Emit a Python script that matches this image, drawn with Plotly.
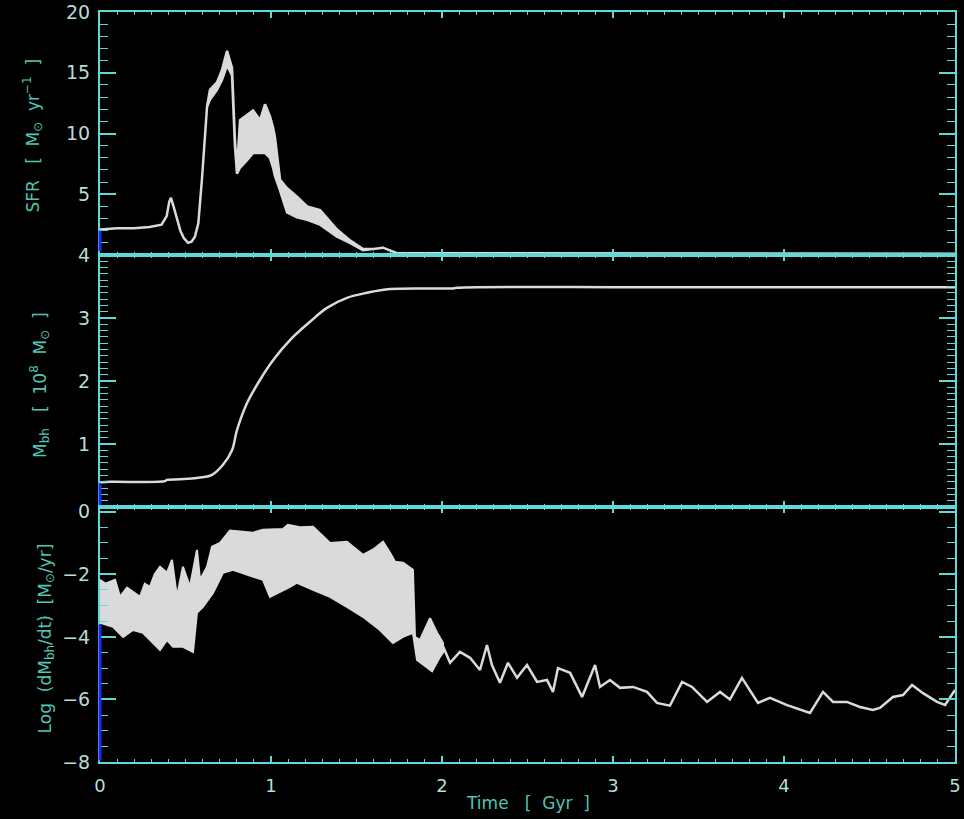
import plotly.graph_objects as go

# ---------------- data ----------------
# Panel 1: star formation rate, upper / lower envelope of the noisy trace
sfr_time = [0, 0.1, 0.2, 0.29, 0.36, 0.39, 0.405, 0.415, 0.43, 0.45, 0.47, 0.49, 0.515,
            0.535, 0.555, 0.575, 0.596, 0.626, 0.643, 0.684, 0.713, 0.743, 0.772, 0.789,
            0.801, 0.819, 0.86, 0.895, 0.936, 0.965, 0.994, 1.012, 1.023, 1.053, 1.094,
            1.152, 1.211, 1.287, 1.386, 1.462, 1.538, 1.6, 1.655, 1.737, 2.0, 3.0, 4.0, 5.0]
sfr_upper = [2.1, 2.2, 2.2, 2.3, 2.5, 3.2, 4.4, 4.7, 4.0, 2.9, 2.0, 1.4, 1.0,
             1.1, 1.5, 2.6, 6.2, 12.2, 13.6, 14.2, 15.2, 16.8, 15.4, 9.5,
             7.0, 11.1, 11.5, 11.9, 11.1, 12.4, 11.4, 10.5, 9.7, 6.2, 5.5,
             4.8, 4.0, 3.7, 2.1, 1.2, 0.5, 0.5, 0.6, 0.15, 0.1, 0.1, 0.1, 0.1]
sfr_lower = [2.1, 2.2, 2.2, 2.3, 2.5, 3.2, 4.4, 4.7, 4.0, 2.9, 2.0, 1.4, 1.0,
             1.1, 1.5, 2.6, 6.2, 12.2, 12.8, 13.6, 14.4, 15.6, 14.8, 9.0,
             6.7, 7.2, 7.8, 8.4, 8.4, 8.4, 8.0, 7.2, 6.5, 5.3, 3.5,
             3.1, 2.9, 2.5, 1.5, 1.0, 0.4, 0.5, 0.6, 0.15, 0.1, 0.1, 0.1, 0.1]

# Panel 2: black hole mass [1e8 Msun]
mbh_time = [0, 0.06, 0.38, 0.39, 0.468, 0.567, 0.655, 0.719, 0.772, 0.801, 0.86, 0.936,
            1.012, 1.111, 1.228, 1.327, 1.444, 1.561, 1.696, 2.064, 2.088, 2.222, 3.0,
            4.0, 5.0]
mbh_mass = [0.39, 0.40, 0.41, 0.43, 0.44, 0.46, 0.51, 0.67, 0.90, 1.22, 1.65, 2.02,
            2.33, 2.65, 2.94, 3.16, 3.32, 3.40, 3.46, 3.47, 3.48, 3.49, 3.49,
            3.49, 3.49]

# Panel 3: log accretion rate, noisy band (upper / lower envelopes) then a single trace
acc_up_time = [0, 0.03, 0.088, 0.117, 0.158, 0.2, 0.234, 0.262, 0.292, 0.32, 0.351,
               0.392, 0.421, 0.45, 0.485, 0.526, 0.567, 0.585, 0.626, 0.655, 0.702,
               0.76, 0.895, 0.953, 1.07, 1.099, 1.17, 1.246, 1.345, 1.444, 1.538,
               1.6, 1.655, 1.696, 1.725, 1.772, 1.83, 1.842, 1.871, 1.93, 1.971, 2.006]
acc_up = [-2.18, -2.3, -2.18, -2.72, -2.43, -2.6, -2.72, -2.3, -2.4, -2.0, -1.76,
          -1.95, -1.54, -2.72, -1.76, -2.4, -1.22, -2.18, -1.76, -1.12, -1.0,
          -0.6, -0.67, -0.58, -0.55, -0.42, -0.5, -0.48, -1.0, -0.96, -1.38,
          -1.2, -0.96, -1.31, -1.6, -1.63, -1.86, -4.0, -4.1, -3.4, -3.87, -4.2]
acc_lo_time = [0, 0.076, 0.135, 0.193, 0.251, 0.31, 0.351, 0.392, 0.427, 0.485, 0.544,
               0.567, 0.602, 0.661, 0.719, 0.778, 0.86, 0.953, 0.994, 1.111, 1.152,
               1.246, 1.345, 1.444, 1.538, 1.637, 1.713, 1.772, 1.83, 1.854, 1.942,
               1.988, 2.006]
acc_lo = [-3.55, -3.68, -4.0, -3.78, -3.87, -4.2, -4.42, -4.1, -4.32, -4.32, -4.48,
          -3.23, -3.04, -2.6, -1.95, -1.86, -2.02, -2.18, -2.72, -2.4, -2.27,
          -2.5, -2.72, -3.04, -3.36, -3.78, -4.2, -4.0, -3.87, -4.74, -5.1,
          -4.64, -4.5]
acc_time = [2.006, 2.047, 2.105, 2.164, 2.222, 2.263, 2.292, 2.339, 2.386, 2.439, 2.497,
            2.556, 2.614, 2.649, 2.678, 2.749, 2.819, 2.895, 2.924, 2.982, 3.041, 3.117,
            3.199, 3.257, 3.333, 3.404, 3.462, 3.55, 3.626, 3.684, 3.754, 3.801, 3.848,
            3.918, 4.018, 4.152, 4.228, 4.287, 4.368, 4.444, 4.52, 4.561, 4.637, 4.696,
            4.749, 4.813, 4.895, 4.942, 5.0]
acc_rate = [-4.3, -4.83, -4.48, -4.67, -5.06, -4.26, -4.9, -5.47, -4.83, -5.31, -4.9,
            -5.44, -5.38, -5.76, -5.0, -5.15, -5.92, -4.9, -5.6, -5.38, -5.63, -5.6,
            -5.76, -6.11, -6.2, -5.44, -5.6, -6.08, -5.76, -6.0, -5.31, -5.7, -6.11,
            -5.95, -6.18, -6.43, -5.76, -6.08, -6.08, -6.24, -6.34, -6.27, -5.92, -5.86,
            -5.54, -5.8, -6.08, -6.18, -5.7]

x_ticks = [0, 1, 2, 3, 4, 5]
sfr_ticks = [5, 10, 15, 20]
mbh_ticks = [1, 2, 3, 4]
acc_ticks = [-8, -6, -4, -2, 0]
acc_tick_text = ["\u22128", "\u22126", "\u22124", "\u22122", "0"]

# ---------------- style ----------------
LINE = "#dadada"
AXIS = "#5fd8d8"
BLUE = "#1e2cf0"
TICKTXT = "#b8dcd6"
TITLETXT = "#52c4b4"
FONT = "DejaVu Sans"

fig = go.Figure()

# SFR band polygon
fig.add_trace(go.Scatter(
    x=sfr_time + sfr_time[::-1], y=sfr_upper + sfr_lower[::-1],
    fill="toself", fillcolor=LINE, mode="lines",
    line=dict(color=LINE, width=2.5), xaxis="x", yaxis="y", hoverinfo="skip",
    showlegend=False))

# M_bh
fig.add_trace(go.Scatter(
    x=mbh_time, y=mbh_mass, mode="lines", line=dict(color=LINE, width=2.5, shape="spline"),
    xaxis="x2", yaxis="y2", showlegend=False))

# accretion band polygon + tail
fig.add_trace(go.Scatter(
    x=acc_up_time + acc_lo_time[::-1], y=acc_up + acc_lo[::-1],
    fill="toself", fillcolor=LINE, mode="lines",
    line=dict(color=LINE, width=2), xaxis="x3", yaxis="y3", hoverinfo="skip",
    showlegend=False))
fig.add_trace(go.Scatter(
    x=acc_time, y=acc_rate, mode="lines", line=dict(color=LINE, width=2.5),
    xaxis="x3", yaxis="y3", showlegend=False))


def xax(domain_anchor, labels):
    return dict(
        range=[0, 5], anchor=domain_anchor, domain=[0, 1],
        showgrid=False, zeroline=False, showline=True, linecolor=AXIS, linewidth=2,
        mirror="ticks", ticks="inside", ticklen=6, tickwidth=1.5, tickcolor=AXIS,
        tickvals=x_ticks, showticklabels=labels, ticklabelstandoff=6,
        tickfont=dict(family=FONT, size=18, color=TICKTXT),
        minor=dict(ticks="inside", dtick=0.1, ticklen=3, tickwidth=1.2, tickcolor=AXIS),
    )


def yax(domain, rng, tickvals, minor, ticktext=None):
    d = dict(
        range=rng, domain=domain, anchor=None,
        showgrid=False, zeroline=False, showline=True, linecolor=AXIS, linewidth=2,
        mirror="ticks", ticks="inside", ticklen=16, tickwidth=1.5, tickcolor=AXIS,
        tickvals=tickvals, ticklabelstandoff=4,
        tickfont=dict(family=FONT, size=19, color=TICKTXT),
        minor=dict(ticks="inside", dtick=minor, ticklen=8, tickwidth=1.2, tickcolor=AXIS),
    )
    if ticktext:
        d["ticktext"] = ticktext
    return d


ya1 = yax([0.676, 1.0], [0, 20], sfr_ticks, 1)
ya1["anchor"] = "x"
ya2 = yax([0.34, 0.676], [0, 4], mbh_ticks, 0.1)
ya2["anchor"] = "x2"
ya3 = yax([0, 0.34], [-8, 0.15], acc_ticks, 0.5, acc_tick_text)
ya3["anchor"] = "x3"

xa1 = xax("y", False)
xa2 = xax("y2", False)
xa2["matches"] = "x"
xa3 = xax("y3", True)
xa3["matches"] = "x"

annos = [
    dict(text="SFR   [  M<sub>\u2299</sub>  yr<sup>\u22121</sup>  ]", x=-0.079, y=0.836,
         textangle=-90),
    dict(text="M<sub>bh</sub>   [  10<sup>8</sup>  M<sub>\u2299</sub>  ]", x=-0.07, y=0.503,
         textangle=-90),
    dict(text="Log  (dM<sub>bh</sub>/dt)  [M<sub>\u2299</sub>/yr]", x=-0.063, y=0.165,
         textangle=-90),
    dict(text="Time   [  Gyr  ]", x=0.5, y=-0.055, textangle=0),
]
annotations = []
for a in annos:
    a.update(xref="paper", yref="paper", showarrow=False, xanchor="center",
             yanchor="middle", font=dict(family=FONT, size=17, color=TITLETXT))
    annotations.append(a)

# blue colour bleed along the lower part of each left frame edge
shapes = [
    dict(type="line", xref="x domain", yref="y", x0=0, x1=0, y0=0.3, y1=2.0,
         line=dict(color=BLUE, width=3)),
    dict(type="line", xref="x2 domain", yref="y2", x0=0, x1=0, y0=0.03, y1=0.38,
         line=dict(color=BLUE, width=3)),
    dict(type="line", xref="x3 domain", yref="y3", x0=0, x1=0, y0=-7.95, y1=-3.6,
         line=dict(color=BLUE, width=3)),
]

fig.update_layout(
    width=964, height=819,
    paper_bgcolor="black", plot_bgcolor="black",
    margin=dict(l=100, r=9, t=12, b=57, autoexpand=False),
    xaxis=xa1, xaxis2=xa2, xaxis3=xa3,
    yaxis=ya1, yaxis2=ya2, yaxis3=ya3,
    annotations=annotations, shapes=shapes,
    showlegend=False,
)

fig.write_html("out.html", config={"displayModeBar": False},
               post_script="document.body.style.margin='0px';"
                           "document.body.style.background='black';")
